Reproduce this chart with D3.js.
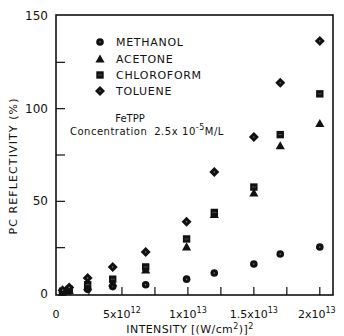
<!DOCTYPE html>
<html><head><meta charset="utf-8">
<script src="https://cdn.jsdelivr.net/npm/d3@7"></script>
<style>body{margin:0;background:#fff}svg{display:block}text{font-family:"DejaVu Sans",sans-serif;fill:#111}</style>
</head><body><svg id="c" width="344" height="336"></svg>
<script>
const intensity = [0.5e12, 1.0e12, 2.4e12, 4.3e12, 6.8e12, 9.9e12, 1.2e13, 1.5e13, 1.7e13, 2.0e13];
const methanol   = [1, 1.5, 2.5, 4, 5, 8, 11.3, 16.2, 21.6, 25.4];
const acetone    = [1, 2, 4, 6, 13, 25.4, 43, 54.5, 80, 92];
const chloroform = [1.5, 2.5, 5, 8, 14.6, 29.7, 44, 57.7, 86, 108];
const toluene    = [2, 3.5, 8.6, 14.6, 22.7, 39, 65.8, 84.7, 114, 136.5];
const seriesNames = ["METHANOL", "ACETONE", "CHLOROFORM", "TOLUENE"];
const seriesShapes = ["circle", "triangle", "square", "diamond"];
const xTickValues = [0, 5e12, 1e13, 1.5e13, 2e13];
const xTickLabels = [["0", ""], ["5x10", "12"], ["1x10", "13"], ["1.5x10", "13"], ["2x10", "13"]];
const xMinorTicks = [2.5e12, 7.5e12, 1.25e13, 1.75e13];
const yTickValues = [0, 50, 100, 150];
const yMinorTicks = [25, 75, 125];

const svg = d3.select("#c");
const L = 56, R = 333, T = 15, B = 295;
const x = d3.scaleLinear().domain([0, 2.1e13]).range([L, R]);
const y = d3.scaleLinear().domain([0, 150]).range([294, 16]);

svg.append("rect").attr("x", L).attr("y", T).attr("width", R - L).attr("height", B - T)
  .attr("fill", "none").attr("stroke", "#111").attr("stroke-width", 1.6);

const g = svg.append("g");
xTickValues.concat(xMinorTicks).forEach(v => {
  if (v === 0) return;
  g.append("line").attr("x1", x(v)).attr("x2", x(v)).attr("y1", B).attr("y2", B - 8)
    .attr("stroke", "#111").attr("stroke-width", 1.2);
});
yTickValues.concat(yMinorTicks).forEach(v => {
  if (v === 0 || v === 150) return;
  g.append("line").attr("x1", L).attr("x2", L + 9).attr("y1", y(v)).attr("y2", y(v))
    .attr("stroke", "#111").attr("stroke-width", 1.2);
});

yTickValues.forEach(v => {
  svg.append("text").attr("x", 48).attr("y", y(v) + 4).attr("text-anchor", "end")
    .attr("font-size", 12).text(v);
});
xTickValues.forEach((v, i) => {
  const t = svg.append("text").attr("x", v === 2e13 ? x(v) - 3 : x(v)).attr("y", 318)
    .attr("text-anchor", "middle").attr("font-size", 11);
  t.append("tspan").text(xTickLabels[i][0]);
  if (xTickLabels[i][1]) t.append("tspan").attr("dy", -5).attr("font-size", 8).text(xTickLabels[i][1]);
});

const xt = svg.append("text").attr("x", 190).attr("y", 333).attr("text-anchor", "middle")
  .attr("font-size", 11).attr("letter-spacing", 0.4);
xt.append("tspan").text("INTENSITY [(W/cm");
xt.append("tspan").attr("dy", -4).attr("font-size", 8).text("2");
xt.append("tspan").attr("dy", 4).text(")]");
xt.append("tspan").attr("dy", -4).attr("font-size", 8).text("2");
svg.append("text").attr("transform", "translate(17,166) rotate(-90)").attr("text-anchor", "middle")
  .attr("font-size", 11).attr("letter-spacing", 1.1).text("PC REFLECTIVITY (%)");

function marker(sel, shape, cx, cy) {
  const gg = sel.append("g").attr("transform", `translate(${cx},${cy})`);
  if (shape === "circle") {
    gg.append("circle").attr("r", 3.8).attr("fill", "#111");
    gg.append("circle").attr("r", 0.7).attr("fill", "#888");
  } else if (shape === "triangle") {
    gg.append("path").attr("d", "M0,-4.6L4.6,3.6L-4.6,3.6Z").attr("fill", "#111");
  } else if (shape === "square") {
    gg.append("rect").attr("x", -3.7).attr("y", -3.7).attr("width", 7.4).attr("height", 7.4).attr("fill", "#111");
    gg.append("path").attr("d", "M-2,0H2").attr("stroke", "#777").attr("stroke-width", 0.6);
  } else {
    gg.append("path").attr("d", "M0,-5L5,0L0,5L-5,0Z").attr("fill", "#111");
    gg.append("circle").attr("r", 0.7).attr("fill", "#888");
  }
}
const allSeries = [methanol, acetone, chloroform, toluene];
allSeries.forEach((vals, si) => {
  vals.forEach((v, i) => marker(svg, seriesShapes[si], x(intensity[i]), y(v)));
});

const legY = [42, 59, 75, 91];
seriesNames.forEach((n, i) => {
  marker(svg, seriesShapes[i], 100, legY[i]);
  svg.append("text").attr("x", 116).attr("y", legY[i] + 4).attr("font-size", 11)
    .attr("letter-spacing", 0.7).text(n);
});
svg.append("text").attr("x", 130).attr("y", 122).attr("text-anchor", "middle").attr("font-size", 10).text("FeTPP");
const ct = svg.append("text").attr("x", 70).attr("y", 135).attr("font-size", 10).attr("letter-spacing", 0.5);
ct.append("tspan").text("Concentration");
ct.append("tspan").attr("dx", 7).text("2.5x");
ct.append("tspan").attr("dx", 4).text("10");
ct.append("tspan").attr("dy", -5).attr("font-size", 8).text("-5");
ct.append("tspan").attr("dy", 5).text("M/L");
</script></body></html>
